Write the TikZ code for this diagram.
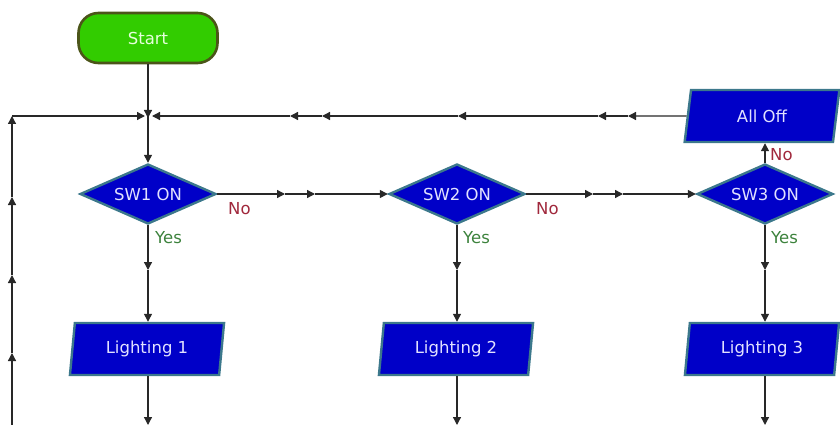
\documentclass[tikz,border=0pt]{standalone}
\usepackage{fontspec}
\setmainfont{DejaVu Sans}
\usetikzlibrary{shapes.geometric,arrows.meta}
\definecolor{fblue}{RGB}{0,0,200}
\definecolor{bteal}{RGB}{60,120,140}
\definecolor{fgreen}{RGB}{50,204,0}
\definecolor{bolive}{RGB}{75,85,25}
\definecolor{ltext}{RGB}{225,225,255}
\definecolor{noc}{RGB}{160,40,60}
\definecolor{yesc}{RGB}{60,130,60}
\definecolor{linec}{RGB}{40,40,40}
\tikzset{
  txt/.style={font=\fontsize{16.5}{19}\selectfont},
  startbox/.style={draw=bolive, line width=2.6pt, fill=fgreen, rounded corners=20pt,
    minimum width=139pt, minimum height=50pt, inner sep=0pt, txt, text={rgb,255:red,230;green,255;blue,220}},
  decision/.style={diamond, draw=bteal, line width=2.4pt, fill=fblue, aspect=2.27,
    minimum width=136pt, minimum height=60pt, inner sep=0pt, txt, text=ltext},
  iobox/.style={trapezium, trapezium left angle=80, trapezium right angle=100, draw=bteal,
    line width=2.4pt, fill=fblue, minimum width=155pt, minimum height=52pt, inner sep=0pt,
    trapezium stretches=true, txt, text=ltext},
  flow/.style={draw=linec, line width=1.3pt, -{Triangle[length=8pt,width=8pt]}},
  nolab/.style={txt, text=noc, inner sep=0pt},
  yeslab/.style={txt, text=yesc, inner sep=0pt}
}
\begin{document}
\begin{tikzpicture}[x=1pt,y=-1pt]
\useasboundingbox (0,0) rectangle (840,425);
% nodes
\node[startbox] (start) at (148,38) {Start};
\node[decision] (sw1) at (148,194) {SW1 ON};
\node[decision] (sw2) at (457,194) {SW2 ON};
\node[decision] (sw3) at (765,194) {SW3 ON};
\node[iobox] (l1) at (147,349) {Lighting 1};
\node[iobox] (l2) at (456,349) {Lighting 2};
\node[iobox] (l3) at (762,349) {Lighting 3};
\node[iobox] (alloff) at (762,116) {All Off};
% labels
\node[nolab, anchor=west] (no1) at (228,209) {No};
\node[nolab, anchor=west] (no2) at (536,209) {No};
\node[nolab, anchor=west] (no3) at (770,155) {No};
\node[yeslab, anchor=west] (yes1) at (155,238) {Yes};
\node[yeslab, anchor=west] (yes2) at (463,238) {Yes};
\node[yeslab, anchor=west] (yes3) at (771,238) {Yes};
% coordinates
\coordinate (j) at (148,116);
\coordinate (jr) at (152,116);
\coordinate (jl) at (145,116);
\coordinate (corner) at (12,116);
\coordinate (lb) at (12,425);
\coordinate (u1) at (12,353);
\coordinate (u2) at (12,275);
\coordinate (u3) at (12,197);
\coordinate (t1) at (628,116);
\coordinate (t2) at (598,116);
\coordinate (t3) at (458,116);
\coordinate (t4) at (322,116);
\coordinate (t5) at (290,116);
\coordinate (h1) at (285,194);
\coordinate (h2) at (315,194);
\coordinate (h3) at (593,194);
\coordinate (h4) at (623,194);
\coordinate (m1) at (148,270);
\coordinate (m2) at (457,270);
\coordinate (m3) at (765,270);
\coordinate (b1) at (148,425);
\coordinate (b2) at (457,425);
\coordinate (b3) at (765,425);
% start to junction
\draw[flow] (start.south) -- ([yshift=-2pt]j);
\draw[flow] (j) -- (sw1.north);
% return line from All Off
\draw[flow] (alloff.west) -- (t1);
\draw[flow] (t1) -- (t2);
\draw[flow] (t2) -- (t3);
\draw[flow] (t3) -- (t4);
\draw[flow] (t4) -- (t5);
\draw[flow] (t5) -- (jr);
% left return line
\draw[flow] (lb) -- (u1);
\draw[flow] (u1) -- (u2);
\draw[flow] (u2) -- (u3);
\draw[flow] (u3) -- (corner);
\draw[flow] (corner) -- (jl);
% No branches
\draw[flow] (sw1.east) -- (h1);
\draw[flow] (h1) -- (h2);
\draw[flow] (h2) -- (sw2.west);
\draw[flow] (sw2.east) -- (h3);
\draw[flow] (h3) -- (h4);
\draw[flow] (h4) -- (sw3.west);
\draw[flow] (sw3.north) -- (alloff.south -| sw3.north);
% Yes branches
\draw[flow] (sw1.south) -- (m1);
\draw[flow] (m1) -- (l1.north -| m1);
\draw[flow] (sw2.south) -- (m2);
\draw[flow] (m2) -- (l2.north -| m2);
\draw[flow] (sw3.south) -- (m3);
\draw[flow] (m3) -- (l3.north -| m3);
\draw[flow] (l1.south -| b1) -- (b1);
\draw[flow] (l2.south -| b2) -- (b2);
\draw[flow] (l3.south -| b3) -- (b3);
\end{tikzpicture}
\end{document}
